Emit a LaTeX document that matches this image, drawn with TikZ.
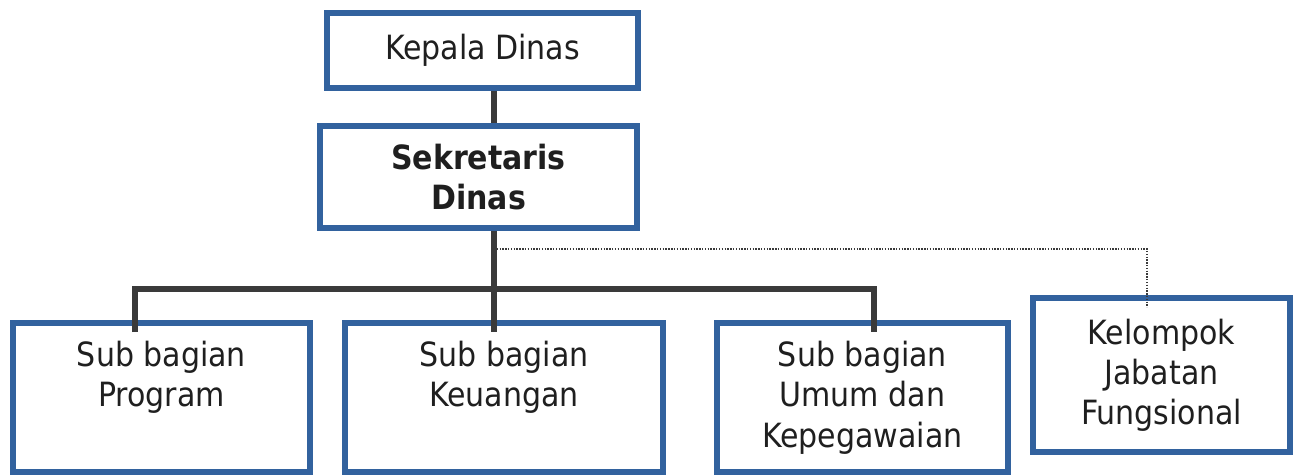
\documentclass[tikz,border=0pt]{standalone}
\usepackage{fontspec}
\setmainfont{DejaVu Sans Condensed}
\usetikzlibrary{positioning}
\definecolor{boxblue}{RGB}{50,98,158}
\definecolor{linegray}{RGB}{58,58,58}
\tikzset{
  unit/.style={draw=boxblue, line width=3.2pt, fill=white, inner sep=0pt},
  txt/.style={align=center, inner sep=0pt, text=black!88,
    font=\fontsize{19}{22.8}\selectfont},
  link/.style={draw=linegray, line width=3pt},
  staff/.style={draw=linegray, line width=1.1pt, dash pattern=on 0.8pt off 0.8pt},
}
\begin{document}
\begin{tikzpicture}[x=0.02cm, y=-0.02cm]
    \useasboundingbox (0,0) rectangle (1299,475);
    % pimpinan
    \node[unit, txt, minimum width=6.22cm, minimum height=1.5cm] (kadis) at (482.5,50.5) {Kepala Dinas};
    \node[unit, txt, font=\fontsize{19}{22.8}\selectfont\bfseries, minimum width=6.34cm, minimum height=2.04cm] (sekdis) at (478.5,177) {Sekretaris\\Dinas};
    % sub bagian
    \node[unit, minimum width=5.94cm, minimum height=2.98cm] (prog) at (161.5,397.5) {};
    \node[unit, minimum width=6.36cm, minimum height=2.98cm] (keu) at (504,397.5) {};
    \node[unit, minimum width=5.82cm, minimum height=2.98cm] (umum) at (862.5,397.5) {};
    \node[txt, anchor=north] (progtxt) at ([yshift=-0.42cm]prog.north) {Sub bagian\\Program};
    \node[txt, anchor=north] (keutxt) at ([yshift=-0.42cm]keu.north) {Sub bagian\\Keuangan};
    \node[txt, anchor=north] (umumtxt) at ([yshift=-0.42cm]umum.north) {Sub bagian\\Umum dan\\Kepegawaian};
    % fungsional
    \node[unit, txt, minimum width=5.14cm, minimum height=3.08cm] (kjf) at (1161.5,375) {Kelompok\\Jabatan\\Fungsional};
    % garis
    \coordinate (trunk) at (494,289);
    \coordinate (fork) at (494,249);
    \draw[link] (kadis.south -| trunk) -- (sekdis.north -| trunk);
    \draw[link, shorten >=-0.24cm] (sekdis.south -| trunk) -- (keu.north -| trunk);
    \draw[link, shorten <=-0.24cm, shorten >=-0.24cm] ([xshift=-0.53cm]prog.north) |- (trunk) -| ([xshift=0.23cm]umum.north);
    \draw[staff, shorten >=-0.24cm] (fork) -| ([xshift=-0.29cm]kjf.north);
\end{tikzpicture}
\end{document}
